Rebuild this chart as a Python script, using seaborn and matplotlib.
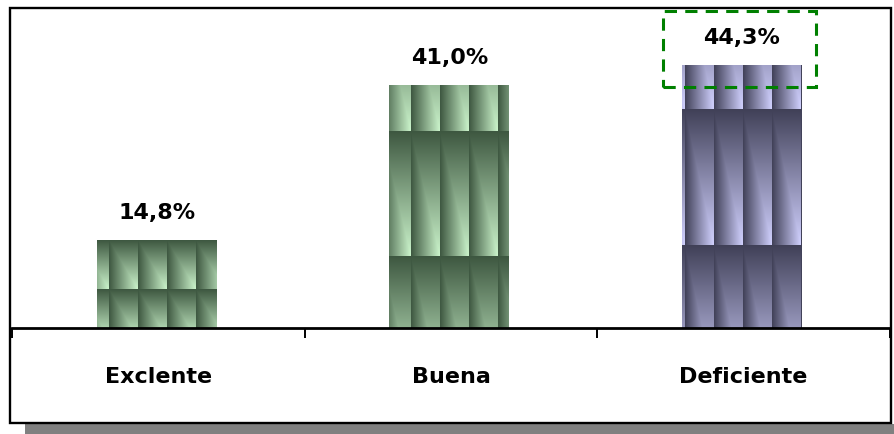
import numpy as np
import matplotlib
matplotlib.use("Agg")
import matplotlib.pyplot as plt
import seaborn as sns
from matplotlib.patches import Rectangle

# data
categories = ["Exclente", "Buena", "Deficiente"]
values = [14.8, 41.0, 44.3]

# texture styling per bar (dark, light, tile phase in px)
bar_dark = [(0.24, 0.34, 0.25), (0.24, 0.34, 0.25), (0.25, 0.25, 0.34)]
bar_light = [(0.80, 0.96, 0.80), (0.80, 0.96, 0.80), (0.82, 0.82, 1.00)]
tile_x0 = [12, 22, 3]
tile_y0 = [39, 72, 83]
tile_h = [49, 125, 136]
TILE_W = 29

sns.set_theme(style="white")
plt.rcParams["font.family"] = ["DejaVu Sans"]

W, H = 894, 434
fig = plt.figure(figsize=(W / 100, H / 100), dpi=100)

# outer frame with shadow strip underneath
fig.add_artist(Rectangle((25 / W, 0), 1.0, 10 / H, transform=fig.transFigure,
                         facecolor="#808080", edgecolor="none", zorder=-3))
fig.add_artist(Rectangle((10 / W, 11 / H), 881 / W, 415 / H, transform=fig.transFigure,
                         facecolor="white", edgecolor="black", linewidth=1.7, zorder=-2))

ax = fig.add_axes([12 / W, (H - 328) / H, 878 / W, 320 / H])
ax.patch.set_alpha(0)

sns.barplot(x=categories, y=values, width=0.41, color="#7f9f80", ax=ax,
            linewidth=0, zorder=1)

YMAX = 54
ax.set_xlim(-0.5, 2.5)
px_x = 878 / 3.0
px_y = 320 / YMAX

for i, bar in enumerate(ax.patches):
    x0, w, h = bar.get_x() - 0.006, bar.get_width(), bar.get_height()
    nx = int(round(w * px_x))
    ny = int(round(h * px_y))
    cols = np.arange(nx) + 0.5
    rows = np.arange(ny)[::-1] + 0.5          # px above baseline, top row first
    u = ((cols - tile_x0[i]) % TILE_W) / TILE_W
    v = ((tile_y0[i] - rows) % tile_h[i]) / tile_h[i]
    t = np.minimum(u[None, :], v[:, None])
    d = np.array(bar_dark[i])
    l = np.array(bar_light[i])
    img = d + t[..., None] * (l - d)
    ax.imshow(img, extent=(x0, x0 + w, 0, h), aspect="auto", zorder=2,
              interpolation="bilinear")
    bar.set_visible(False)

ax.set_xlim(-0.5, 2.5)
ax.set_ylim(0, YMAX)

# value labels
for i, v in enumerate(values):
    ax.annotate(f"{v:.1f}".replace(".", ",") + "%", (i - 0.006, v), xytext=(0, 15.5),
                textcoords="offset points", ha="center", va="baseline",
                fontsize=16, fontweight="bold", color="black", zorder=4)

# highlight box around the largest value
imax = int(np.argmax(values))
ax.add_patch(Rectangle((imax - 0.277, values[imax] - 3.6), 0.523, 12.8,
                       fill=False, edgecolor="#008000", linewidth=2.2,
                       linestyle=(0, (4, 2.7)), clip_on=False, zorder=5))

for s in ["left", "top", "right"]:
    ax.spines[s].set_visible(False)
ax.spines["bottom"].set_linewidth(2)
ax.spines["bottom"].set_color("black")
ax.set_yticks([])
ax.set_xticks(range(len(categories)))
ax.set_xticklabels(categories, fontsize=16, fontweight="bold", color="black")
ax.set_xticks([-0.5, 0.5, 1.5, 2.5], minor=True)
ax.tick_params(axis="x", which="major", length=0, pad=28, labelcolor="black")
ax.tick_params(axis="x", which="minor", length=7.5, width=1.4, color="black",
               direction="out", bottom=True)
ax.set_xlabel("")
ax.set_ylabel("")

fig.savefig("out.png", dpi=100)
